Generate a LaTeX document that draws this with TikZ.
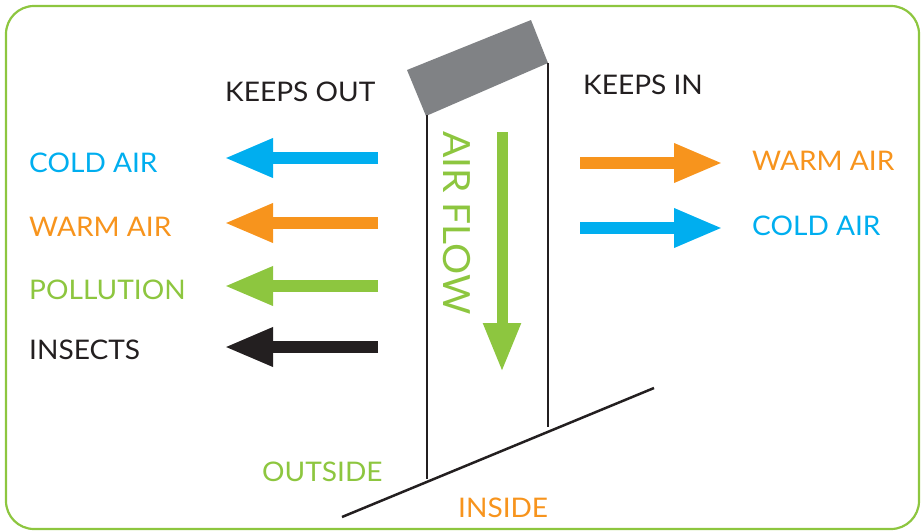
\documentclass[tikz,border=0pt]{standalone}
\usepackage{fontspec}
\setmainfont{Lato}[FakeStretch=1.04]
\usetikzlibrary{arrows.meta}
\definecolor{cblue}{HTML}{00AEEF}
\definecolor{corange}{HTML}{F7941D}
\definecolor{cgreen}{HTML}{8DC63F}
\definecolor{cblack}{HTML}{231F20}
\definecolor{cgray}{HTML}{808285}
\tikzset{
  lbl/.style={anchor=west, inner sep=0pt, font=\fontsize{27}{30}\selectfont},
  blockarrow/.style={line width=12pt, -{Triangle[length=49pt,width=36pt]}},
  wall/.style={draw=cblack, line width=2pt},
}
\begin{document}
\begin{tikzpicture}[x=1pt,y=-1pt]
\useasboundingbox (0,0) rectangle (921,531);
% frame
\draw[cgreen, line width=2.2pt, rounded corners=28pt] (6,6) rectangle (919,529);
% window
\fill[cgray] (407,70) -- (531,20) -- (548,63) -- (426,116) -- cycle;
\coordinate (lt) at (427,115);
\coordinate (lb) at (427,479);
\coordinate (rt) at (548,63);
\coordinate (rb) at (548,427);
\coordinate (g1) at (342,517);
\coordinate (g2) at (654,388);
\draw[wall] (lt) -- (lb);
\draw[wall] (rt) -- (rb);
\draw[cblack, line width=2.5pt] (g1) -- (g2);
% air flow
\coordinate (af1) at (502,132);
\coordinate (af2) at (502,372);
\draw[cgreen, line width=11pt, -{Triangle[length=49pt,width=35pt]}] (af1) -- (af2);
\node[inner sep=0pt, rotate=-90, text=cgreen, font=\fontsize{37.5}{40}\selectfont] (airflow) at (457,223) {AIR FLOW};
% headings
\node[lbl, text=cblack] (keepsout) at (225,92) {KEEPS OUT};
\node[lbl, text=cblack] (keepsin) at (583,85) {KEEPS IN};
% left labels
\node[lbl, text=cblue] (lcold) at (29,163) {COLD AIR};
\node[lbl, text=corange] (lwarm) at (29,227) {WARM AIR};
\node[lbl, text=cgreen] (lpoll) at (29,290) {POLLUTION};
\node[lbl, text=cblack] (lins) at (29,350) {INSECTS};
% left arrows
\coordinate (a1s) at (378,158); \coordinate (a1e) at (224,158);
\coordinate (a2s) at (378,223); \coordinate (a2e) at (224,223);
\coordinate (a3s) at (378,286); \coordinate (a3e) at (224,286);
\coordinate (a4s) at (378,347); \coordinate (a4e) at (224,347);
\draw[blockarrow, cblue] (a1s) -- (a1e);
\draw[blockarrow, corange] (a2s) -- (a2e);
\draw[blockarrow, cgreen] (a3s) -- (a3e);
\draw[blockarrow, cblack] (a4s) -- (a4e);
% right arrows
\coordinate (b1s) at (580,163); \coordinate (b1e) at (723,163);
\coordinate (b2s) at (580,228); \coordinate (b2e) at (723,228);
\draw[blockarrow, corange] (b1s) -- (b1e);
\draw[blockarrow, cblue] (b2s) -- (b2e);
% right labels
\node[lbl, text=corange] (rwarm) at (752,160.5) {WARM AIR};
\node[lbl, text=cblue] (rcold) at (752,225.5) {COLD AIR};
% bottom labels
\node[lbl, text=cgreen] (outside) at (262,472) {OUTSIDE};
\node[lbl, text=corange] (inside) at (458,507.5) {INSIDE};
\end{tikzpicture}
\end{document}
